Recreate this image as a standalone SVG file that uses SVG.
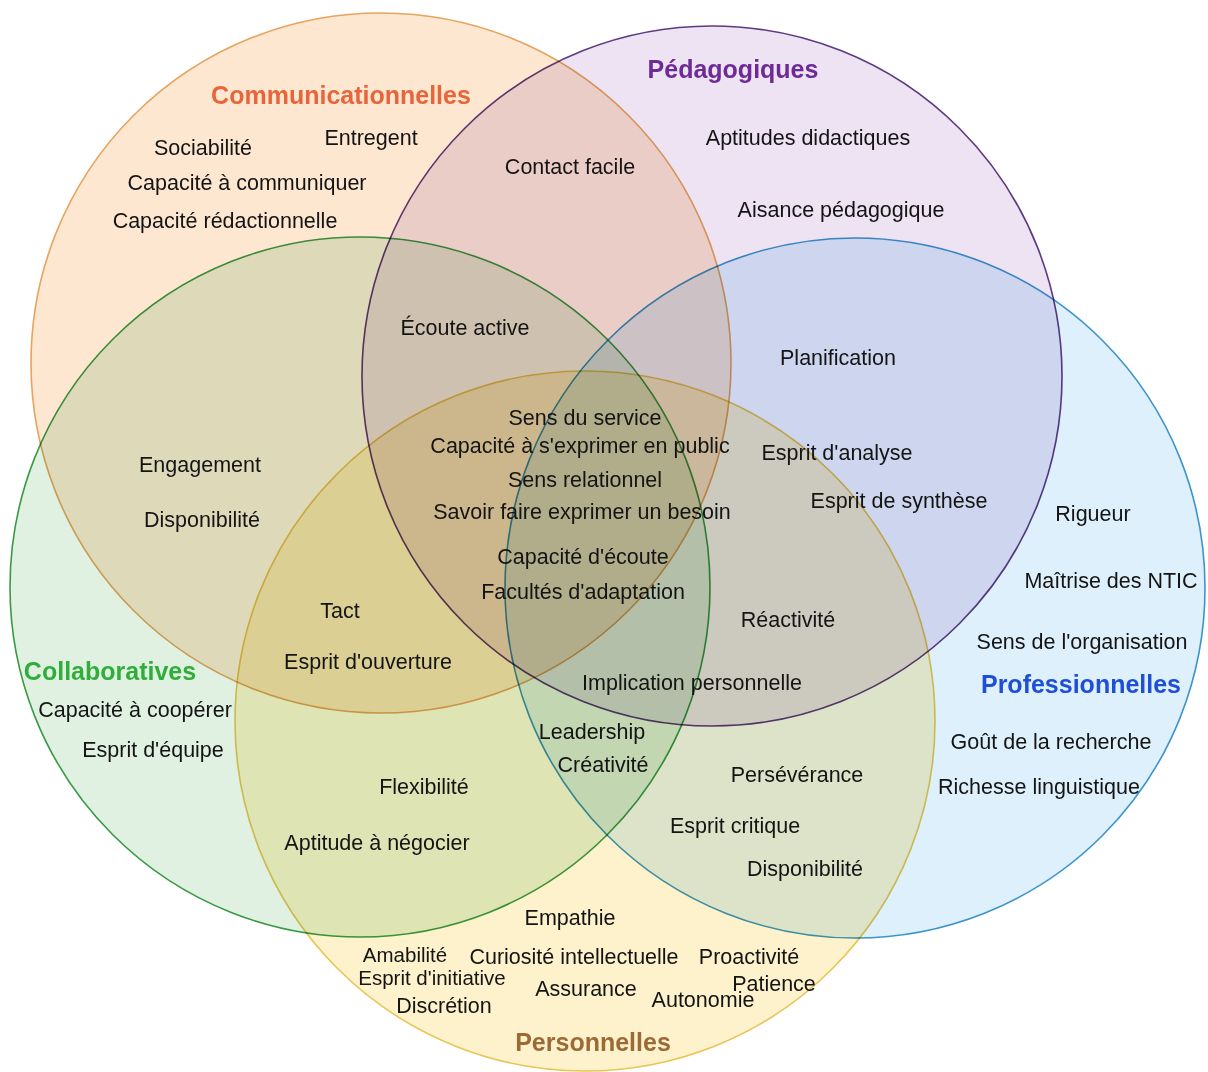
<svg xmlns="http://www.w3.org/2000/svg" width="1208" height="1072" viewBox="0 0 1208 1072">
<style>
.c{mix-blend-mode:multiply;stroke-width:1.6}
.t{font-family:"Liberation Sans",Arial,sans-serif;font-size:21.5px;fill:#141414;text-anchor:middle}
.s{font-size:20.5px}
.h{font-family:"Liberation Sans",Arial,sans-serif;font-size:25px;font-weight:bold;text-anchor:middle}
</style>
<rect width="1208" height="1072" fill="#ffffff"/>
<g id="circles">
<g id="communicationnelles"><circle class="c" cx="381" cy="363" r="350" fill="#fde7d1" stroke="#e6a45e"/></g>
<g id="pedagogiques"><circle class="c" cx="712" cy="376" r="350" fill="#ede3f3" stroke="#5e3a80"/></g>
<g id="collaboratives"><circle class="c" cx="360" cy="587" r="350" fill="#e0f1e2" stroke="#3a9a44"/></g>
<g id="professionnelles"><circle class="c" cx="855" cy="588" r="350" fill="#def0fb" stroke="#3c94cc"/></g>
<g id="personnelles"><circle class="c" cx="585" cy="721" r="350" fill="#fdf2cb" stroke="#e8c555"/></g>
</g>
<g id="titles">
<text class="h" x="341" y="104" fill="#e8653a">Communicationnelles</text>
<text class="h" x="733" y="78" fill="#6e2a96">Pédagogiques</text>
<text class="h" x="110" y="680" fill="#2fae3a">Collaboratives</text>
<text class="h" x="1081" y="693" fill="#1f4fd6">Professionnelles</text>
<text class="h" x="593" y="1051" fill="#9c6a36">Personnelles</text>
</g>
<g id="labels">
<text class="t" x="203" y="155">Sociabilité</text>
<text class="t" x="371" y="145">Entregent</text>
<text class="t" x="247" y="190">Capacité à communiquer</text>
<text class="t" x="225" y="228">Capacité rédactionnelle</text>
<text class="t" x="570" y="174">Contact facile</text>
<text class="t" x="808" y="145">Aptitudes didactiques</text>
<text class="t" x="841" y="217">Aisance pédagogique</text>
<text class="t" x="465" y="335">Écoute active</text>
<text class="t" x="838" y="365">Planification</text>
<text class="t" x="585" y="425">Sens du service</text>
<text class="t" x="580" y="453">Capacité à s'exprimer en public</text>
<text class="t" x="585" y="487">Sens relationnel</text>
<text class="t" x="582" y="519">Savoir faire exprimer un besoin</text>
<text class="t" x="583" y="564">Capacité d'écoute</text>
<text class="t" x="583" y="599">Facultés d'adaptation</text>
<text class="t" x="837" y="460">Esprit d'analyse</text>
<text class="t" x="899" y="508">Esprit de synthèse</text>
<text class="t" x="200" y="472">Engagement</text>
<text class="t" x="202" y="527">Disponibilité</text>
<text class="t" x="1093" y="521">Rigueur</text>
<text class="t" x="1111" y="588">Maîtrise des NTIC</text>
<text class="t" x="1082" y="649">Sens de l'organisation</text>
<text class="t" x="340" y="618">Tact</text>
<text class="t" x="368" y="669">Esprit d'ouverture</text>
<text class="t" x="788" y="627">Réactivité</text>
<text class="t" x="135" y="717">Capacité à coopérer</text>
<text class="t" x="153" y="757">Esprit d'équipe</text>
<text class="t" x="692" y="690">Implication personnelle</text>
<text class="t" x="592" y="739">Leadership</text>
<text class="t" x="603" y="772">Créativité</text>
<text class="t" x="424" y="794">Flexibilité</text>
<text class="t" x="377" y="850">Aptitude à négocier</text>
<text class="t" x="797" y="782">Persévérance</text>
<text class="t" x="735" y="833">Esprit critique</text>
<text class="t" x="805" y="876">Disponibilité</text>
<text class="t" x="1051" y="749">Goût de la recherche</text>
<text class="t" x="1039" y="794">Richesse linguistique</text>
<text class="t" x="570" y="925">Empathie</text>
<text class="t s" x="405" y="962">Amabilité</text>
<text class="t" x="574" y="964">Curiosité intellectuelle</text>
<text class="t" x="749" y="964">Proactivité</text>
<text class="t s" x="432" y="985">Esprit d'initiative</text>
<text class="t" x="586" y="996">Assurance</text>
<text class="t" x="774" y="991">Patience</text>
<text class="t" x="703" y="1007">Autonomie</text>
<text class="t" x="444" y="1013">Discrétion</text>
</g>
</svg>
